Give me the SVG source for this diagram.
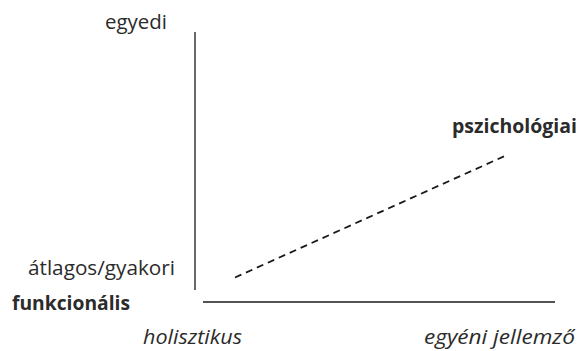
<svg xmlns="http://www.w3.org/2000/svg" width="580" height="351" viewBox="0 0 580 351">
<style>
text{font-family:"Open Sans","Noto Sans","DejaVu Sans",sans-serif;font-size:20px;fill:#2b2b2b}
.b{font-weight:bold}
.i{font-style:italic}
.axis{stroke:#1a1a1a;stroke-width:1.3;fill:none}
.dash{stroke:#1a1a1a;stroke-width:1.8;stroke-dasharray:7,5;fill:none}
</style>
<rect width="580" height="351" fill="#fff"/>
<g id="connectors">
<line class="axis" x1="195" y1="32" x2="195" y2="290"/>
<line class="axis" x1="203" y1="302" x2="555" y2="302"/>
<line class="dash" x1="235" y1="277.5" x2="507" y2="155"/>
</g>
<g id="egyedi"><text x="105" y="29" textLength="62" lengthAdjust="spacingAndGlyphs">egyedi</text></g>
<g id="atlagos"><text x="28" y="275" textLength="147" lengthAdjust="spacingAndGlyphs">átlagos/gyakori</text></g>
<g id="funkcionalis"><text class="b" x="12" y="310" textLength="118" lengthAdjust="spacingAndGlyphs">funkcionális</text></g>
<g id="holisztikus"><text class="i" x="143" y="344" textLength="99" lengthAdjust="spacingAndGlyphs">holisztikus</text></g>
<g id="egyeni"><text class="i" x="424" y="344" textLength="151" lengthAdjust="spacingAndGlyphs">egyéni jellemző</text></g>
<g id="pszichologiai"><text class="b" x="452" y="133" textLength="125" lengthAdjust="spacingAndGlyphs">pszichológiai</text></g>
</svg>
